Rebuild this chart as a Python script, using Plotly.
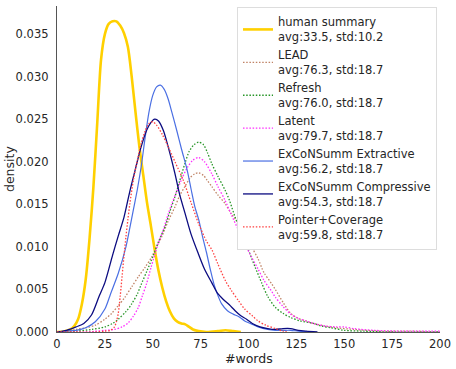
import plotly.graph_objects as go

# ---- data (x = #words, y = density) ----
human_x = [0, 4, 7, 9, 11, 13, 15, 17, 19, 21, 23, 25, 27, 29, 31, 33, 35, 37, 39, 41, 43, 45, 47, 49, 51, 53, 55, 57, 59, 61, 63, 65, 67, 69, 71, 74, 78, 84, 88, 92, 96]
human_y = [0.0000, 0.0001, 0.0003, 0.0007, 0.0015, 0.0033, 0.0062, 0.0110, 0.0170, 0.0245, 0.0320, 0.0350, 0.0362, 0.0365, 0.0365, 0.0360, 0.0351, 0.0335, 0.0300, 0.0258, 0.0218, 0.0185, 0.0152, 0.0125, 0.0097, 0.0072, 0.0052, 0.0036, 0.0024, 0.0016, 0.0012, 0.0010, 0.0009, 0.0006, 0.0003, 0.0001, 0.0000, 0.0001, 0.0002, 0.0001, 0.0000]

lead_x = [0, 5, 10, 15, 20, 25, 28.6, 32, 35.5, 39, 42.5, 46, 49.4, 52, 54.7, 58, 61.6, 64, 66.8, 69.5, 72, 74, 76.5, 78.5, 80.8, 84, 87.7, 91, 94.7, 98, 101.6, 105, 108, 112, 114, 118, 122, 126, 130, 134, 140, 146, 155, 170, 185, 200]
lead_y = [0.0000, 0.0001, 0.0003, 0.0005, 0.0008, 0.0015, 0.0022, 0.0031, 0.0041, 0.0053, 0.0065, 0.0076, 0.0088, 0.0100, 0.0112, 0.0130, 0.0147, 0.0160, 0.0171, 0.0181, 0.0186, 0.0187, 0.0184, 0.0178, 0.0171, 0.0161, 0.0151, 0.0139, 0.0128, 0.0114, 0.0100, 0.0086, 0.0070, 0.0057, 0.0050, 0.0035, 0.0022, 0.0016, 0.0013, 0.0010, 0.0007, 0.0005, 0.0003, 0.0001, 0.0001, 0.0000]

refresh_x = [0, 10, 18, 25, 29, 32, 36, 39, 42, 44, 47, 50.3, 53, 56.4, 59, 61.6, 64, 66.8, 69, 71.5, 74, 76.5, 78.5, 80.8, 84, 87.7, 90, 93, 96.5, 100, 103.5, 107, 110, 114, 118, 122, 127, 134, 138, 143, 150, 160, 175, 200]
refresh_y = [0.0000, 0.0001, 0.0003, 0.0006, 0.0010, 0.0015, 0.0024, 0.0033, 0.0045, 0.0056, 0.0072, 0.0090, 0.0106, 0.0124, 0.0142, 0.0159, 0.0177, 0.0198, 0.0212, 0.0220, 0.0223, 0.0220, 0.0211, 0.0198, 0.0183, 0.0167, 0.0155, 0.0135, 0.0115, 0.0096, 0.0076, 0.0057, 0.0042, 0.0029, 0.0022, 0.0017, 0.0013, 0.0010, 0.0007, 0.0005, 0.0002, 0.0001, 0.0000, 0.0000]

latent_x = [0, 15, 25, 30, 34, 37.3, 40, 42.5, 44.5, 46.8, 49, 51.2, 53, 55.5, 58, 60, 62.5, 65, 68, 71, 74, 77, 80.8, 84, 87.7, 91, 94.7, 98, 101.6, 105, 108, 112, 114, 118, 122, 126, 130, 134, 140, 146, 150, 155, 165, 180, 200]
latent_y = [0.0000, 0.0000, 0.0002, 0.0003, 0.0006, 0.0011, 0.0019, 0.0029, 0.0042, 0.0057, 0.0075, 0.0092, 0.0105, 0.0120, 0.0138, 0.0151, 0.0165, 0.0179, 0.0193, 0.0202, 0.0205, 0.0200, 0.0186, 0.0171, 0.0155, 0.0138, 0.0120, 0.0104, 0.0088, 0.0074, 0.0061, 0.0048, 0.0041, 0.0030, 0.0021, 0.0016, 0.0013, 0.0010, 0.0007, 0.0006, 0.0006, 0.0004, 0.0002, 0.0001, 0.0001]

extractive_x = [0, 5, 10, 15, 20, 25, 28, 32, 36, 38, 40, 42, 44, 46, 48, 50, 52, 54, 56, 58, 60, 62.5, 65, 68, 70, 72, 74, 76, 78, 80, 82, 84, 86, 89, 92, 95, 98, 101, 105, 110, 114, 118, 122, 126, 132]
extractive_y = [0.0000, 0.0001, 0.0002, 0.0005, 0.0012, 0.0027, 0.0045, 0.0069, 0.0100, 0.0122, 0.0145, 0.0168, 0.0195, 0.0228, 0.0258, 0.0278, 0.0288, 0.0290, 0.0285, 0.0274, 0.0258, 0.0237, 0.0215, 0.0190, 0.0168, 0.0147, 0.0132, 0.0112, 0.0094, 0.0074, 0.0056, 0.0043, 0.0033, 0.0025, 0.0021, 0.0018, 0.0013, 0.0010, 0.0006, 0.0003, 0.0002, 0.0002, 0.0002, 0.0001, 0.0000]

compressive_x = [0, 5, 10, 14, 18, 22, 25, 29, 32, 35, 38, 41, 44, 46.8, 49, 51, 53, 55.5, 58, 61.6, 64, 66.8, 70, 73.8, 77, 80.8, 84, 87, 90, 93, 96, 99, 102, 106, 110, 114, 118, 122, 126, 130, 136]
compressive_y = [0.0000, 0.0002, 0.0006, 0.0010, 0.0020, 0.0042, 0.0058, 0.0090, 0.0113, 0.0135, 0.0165, 0.0192, 0.0218, 0.0237, 0.0246, 0.0250, 0.0248, 0.0237, 0.0218, 0.0186, 0.0162, 0.0140, 0.0115, 0.0092, 0.0074, 0.0058, 0.0045, 0.0038, 0.0032, 0.0025, 0.0019, 0.0015, 0.0010, 0.0006, 0.0004, 0.0003, 0.0004, 0.0004, 0.0002, 0.0001, 0.0000]

pointer_x = [0, 10, 20, 25, 28, 30, 31, 32, 33, 34, 35, 36, 37, 38, 40, 42, 44, 46, 48, 50, 52, 55, 58, 62, 66, 70, 74, 78, 81, 84, 88, 91, 95, 98, 102, 105, 109, 114, 118, 120]
pointer_y = [0.0000, 0.0000, 0.0000, 0.0001, 0.0002, 0.0006, 0.0012, 0.0022, 0.0042, 0.0066, 0.0090, 0.0112, 0.0132, 0.0150, 0.0180, 0.0202, 0.0222, 0.0236, 0.0245, 0.0247, 0.0243, 0.0232, 0.0218, 0.0198, 0.0178, 0.0152, 0.0127, 0.0107, 0.0096, 0.0080, 0.0060, 0.0049, 0.0036, 0.0027, 0.0019, 0.0013, 0.0008, 0.0004, 0.0001, 0.0000]

names = [
    "human summary<br>avg:33.5, std:10.2",
    "LEAD<br>avg:76.3, std:18.7",
    "Refresh<br>avg:76.0, std:18.7",
    "Latent<br>avg:79.7, std:18.7",
    "ExCoNSumm Extractive<br>avg:56.2, std:18.7",
    "ExCoNSumm Compressive<br>avg:54.3, std:18.7",
    "Pointer+Coverage<br>avg:59.8, std:18.7",
]
x_ticks = [0, 25, 50, 75, 100, 125, 150, 175, 200]
y_ticks = [0.000, 0.005, 0.010, 0.015, 0.020, 0.025, 0.030, 0.035]

series = [
    (human_x, human_y, "#ffd000", 2.6, "solid"),
    (lead_x, lead_y, "#c08366", 1.3, "1.5px,1.7px"),
    (refresh_x, refresh_y, "#279527", 1.3, "1.5px,1.7px"),
    (latent_x, latent_y, "#ff2cff", 1.3, "1.5px,1.7px"),
    (extractive_x, extractive_y, "#4a6fe3", 1.2, "solid"),
    (compressive_x, compressive_y, "#0b0b80", 1.3, "solid"),
    (pointer_x, pointer_y, "#ff4040", 1.3, "1.5px,1.7px"),
]

fig = go.Figure()
for (xs, ys, color, width, dash), name in zip(series, names):
    fig.add_trace(go.Scatter(
        x=xs, y=ys, name=name, mode="lines",
        line=dict(color=color, width=width, dash=dash, shape="spline", smoothing=0.8),
    ))

font_color = "#262626"
fig.update_layout(
    width=456, height=369,
    margin=dict(l=57, r=16, t=6, b=37, autoexpand=False),
    paper_bgcolor="white", plot_bgcolor="white",
    font=dict(family="DejaVu Sans", size=11.5, color=font_color),
    showlegend=True,
    legend=dict(
        x=0.47, y=0.997, xanchor="left", yanchor="top",
        bgcolor="white", bordercolor="#dddddd", borderwidth=1,
        font=dict(size=11.5, color=font_color),
        tracegroupgap=0, itemwidth=30,
    ),
    xaxis=dict(
        range=[0, 200], tickvals=x_ticks, showgrid=False, zeroline=False,
        showline=True, linecolor="#555555", linewidth=1.3, automargin=False,
        ticks="outside", ticklen=1, tickcolor="rgba(0,0,0,0)",
    ),
    yaxis=dict(
        range=[0, 0.0383], tickvals=y_ticks, tickformat=".3f", showgrid=False, zeroline=False,
        showline=True, linecolor="#555555", linewidth=1.3, automargin=False,
        ticks="outside", ticklen=5, tickcolor="rgba(0,0,0,0)",
    ),
    annotations=[
        dict(text="#words", xref="paper", yref="paper", x=0.5, y=-0.082,
             xanchor="center", yanchor="middle", showarrow=False,
             font=dict(size=12.5, color=font_color)),
        dict(text="density", xref="paper", yref="paper", x=-0.1253, y=0.5,
             xanchor="center", yanchor="middle", textangle=-90, showarrow=False,
             font=dict(size=12.5, color=font_color)),
    ],
)

fig.write_html("out.html", config={"displayModeBar": False},
               post_script="document.body.style.margin='0';")
